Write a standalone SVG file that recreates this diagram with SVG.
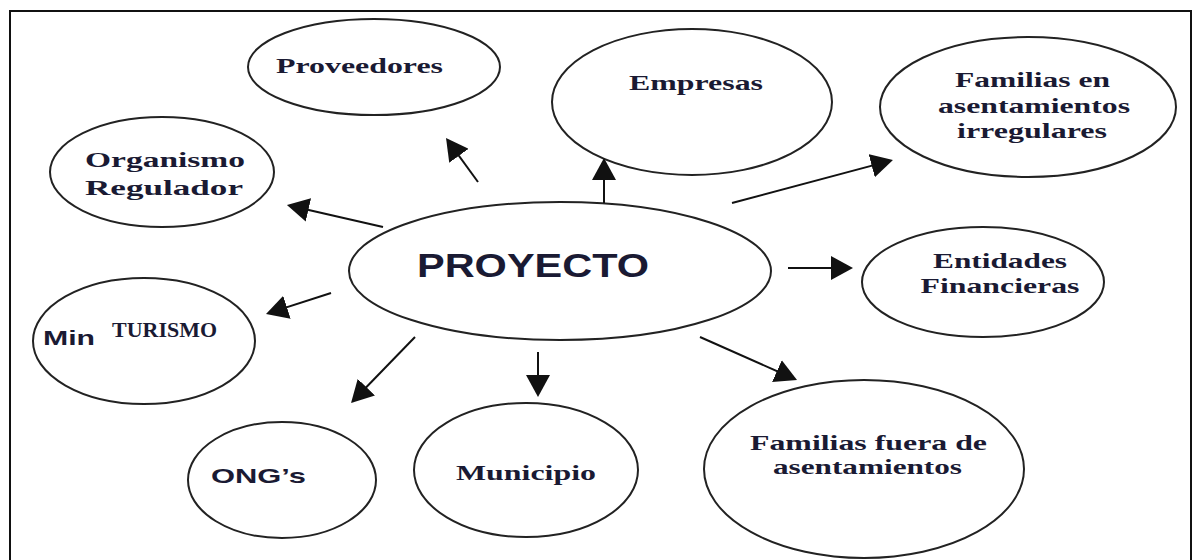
<svg xmlns="http://www.w3.org/2000/svg" width="1200" height="560" viewBox="0 0 1200 560">
<style>
.node ellipse{fill:#fff;stroke:#222;stroke-width:2}
.s{font-family:"Liberation Serif","Times New Roman",serif;font-weight:bold;font-size:22px;fill:#1a1a33;text-anchor:middle}
.a{font-family:"Liberation Sans",Arial,sans-serif;font-weight:bold;fill:#1a1a33;text-anchor:middle}
#connectors line{stroke:#111;stroke-width:2;marker-end:url(#ah)}
</style>
<defs>
<marker id="ah" markerUnits="userSpaceOnUse" viewBox="0 0 22 24" markerWidth="22" markerHeight="24" refX="12" refY="12" orient="auto">
<path d="M0,0 L22,12 L0,24 Z" fill="#111"/>
</marker>
</defs>
<rect x="0" y="0" width="1200" height="560" fill="#fff"/>
<rect id="frame" x="10" y="11" width="1181" height="570" fill="none" stroke="#111" stroke-width="2"/>

<g id="proveedores" class="node">
<ellipse cx="374" cy="67" rx="126" ry="48"/>
<text class="s" x="359.5" y="73" textLength="167" lengthAdjust="spacingAndGlyphs">Proveedores</text>
</g>
<g id="empresas" class="node">
<ellipse cx="692" cy="102" rx="140" ry="73"/>
<text class="s" x="696" y="90" textLength="134" lengthAdjust="spacingAndGlyphs">Empresas</text>
</g>
<g id="familias-irregulares" class="node">
<ellipse cx="1028" cy="107" rx="148" ry="70"/>
<text class="s" x="1032.5" y="87" textLength="155" lengthAdjust="spacingAndGlyphs">Familias en</text>
<text class="s" x="1034" y="113" textLength="192" lengthAdjust="spacingAndGlyphs">asentamientos</text>
<text class="s" x="1032" y="138" textLength="150" lengthAdjust="spacingAndGlyphs">irregulares</text>
</g>
<g id="organismo" class="node">
<ellipse cx="162" cy="172" rx="112" ry="55"/>
<text class="s" x="165" y="167" font-size="23" textLength="160" lengthAdjust="spacingAndGlyphs">Organismo</text>
<text class="s" x="164" y="195" font-size="23" textLength="158" lengthAdjust="spacingAndGlyphs">Regulador</text>
</g>
<g id="proyecto" class="node">
<ellipse cx="560" cy="271" rx="211" ry="69"/>
<text class="a" x="533" y="277" font-size="33" textLength="232" lengthAdjust="spacingAndGlyphs">PROYECTO</text>
</g>
<g id="entidades" class="node">
<ellipse cx="983" cy="282" rx="121" ry="55"/>
<text class="s" x="1000" y="268" textLength="134" lengthAdjust="spacingAndGlyphs">Entidades</text>
<text class="s" x="1000" y="293" textLength="159" lengthAdjust="spacingAndGlyphs">Financieras</text>
</g>
<g id="min-turismo" class="node">
<ellipse cx="144" cy="341" rx="111" ry="63"/>
<text class="a" x="69" y="345" font-size="21" textLength="52" lengthAdjust="spacingAndGlyphs">Min</text>
<text class="s" x="164.5" y="337" font-size="12" textLength="105" lengthAdjust="spacingAndGlyphs">TURISMO</text>
</g>
<g id="ongs" class="node">
<ellipse cx="282" cy="480" rx="94" ry="58"/>
<text class="a" x="258.5" y="483" font-size="21" textLength="95" lengthAdjust="spacingAndGlyphs">ONG’s</text>
</g>
<g id="municipio" class="node">
<ellipse cx="526" cy="470" rx="112" ry="67"/>
<text class="s" x="526" y="480" textLength="140" lengthAdjust="spacingAndGlyphs">Municipio</text>
</g>
<g id="familias-fuera" class="node">
<ellipse cx="864" cy="469" rx="160" ry="89"/>
<text class="s" x="868.5" y="450" textLength="237" lengthAdjust="spacingAndGlyphs">Familias fuera de</text>
<text class="s" x="867.5" y="474" textLength="189" lengthAdjust="spacingAndGlyphs">asentamientos</text>
</g>

<g id="connectors">
<line x1="478" y1="182" x2="451.9" y2="146.1"/>
<line x1="383" y1="227" x2="296.7" y2="207.2"/>
<line x1="604" y1="203" x2="604" y2="168"/>
<line x1="732" y1="203" x2="883.3" y2="162.6"/>
<line x1="788" y1="268" x2="843" y2="268"/>
<line x1="331" y1="293" x2="275.5" y2="310.9"/>
<line x1="415" y1="337" x2="358" y2="395.8"/>
<line x1="538" y1="352" x2="538" y2="387"/>
<line x1="700" y1="337" x2="787.9" y2="376"/>
</g>
</svg>
